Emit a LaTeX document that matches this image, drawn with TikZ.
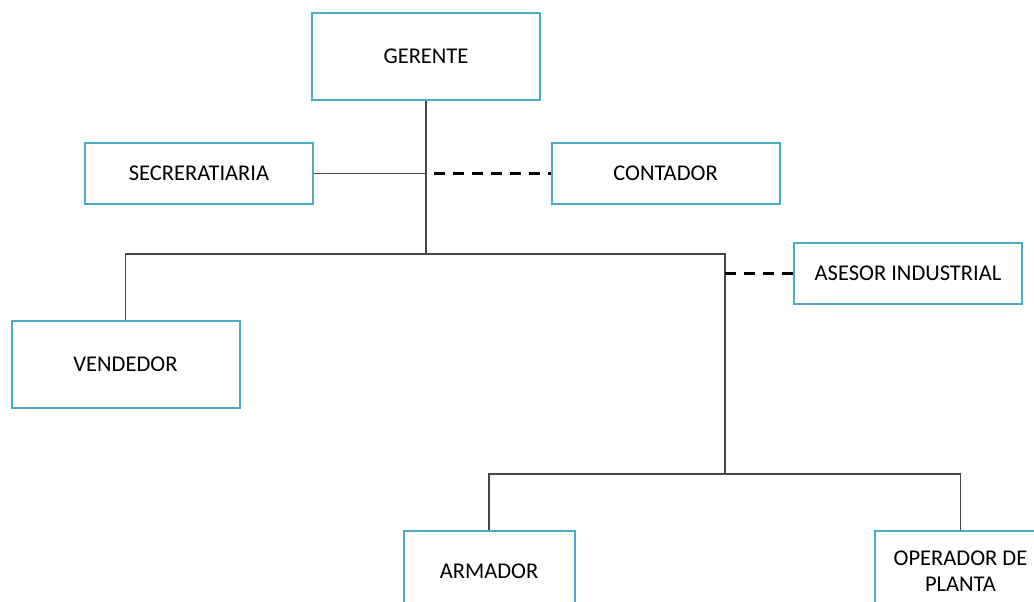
\documentclass[tikz,border=0pt]{standalone}
\usepackage{fontspec}
\setmainfont{Carlito}
\definecolor{cajaazul}{RGB}{75,172,198}
\definecolor{lineagris}{RGB}{70,70,70}
\tikzset{
  puesto/.style={draw=cajaazul, line width=2pt, fill=white, align=center,
    inner sep=0pt, minimum width=228pt, minimum height=87pt,
    font=\fontsize{22.5}{26}\selectfont},
  puestochico/.style={puesto, minimum width=171pt, minimum height=80pt},
  enlace/.style={draw=lineagris, line width=1.2pt},
  asesoria/.style={draw=black, line width=2.6pt, dash pattern=on 11pt off 8pt}
}

\begin{document}
\begin{tikzpicture}[x=1pt,y=-1pt]
    \useasboundingbox (0,0) rectangle (1034,602);

    % puestos
    \node[puesto] (gerente) at (426,56.5) {GERENTE};
    \node[puesto, minimum height=61pt] (secretaria) at (199,173.5) {SECRERATIARIA};
    \node[puesto, minimum height=61pt] (contador) at (665.5,173.5) {CONTADOR};
    \node[puesto, minimum height=61pt] (asesor) at (908,273.5) {ASESOR INDUSTRIAL};
    \node[puesto] (vendedor) at (125.5,364.5) {VENDEDOR};
    \node[puestochico] (armador) at (489,571) {ARMADOR};
    \node[puestochico] (operador) at (960.5,571) {OPERADOR DE\\PLANTA};

    % puntos de union
    \coordinate (tronco) at (426,254);
    \coordinate (rama) at (725,254);
    \coordinate (base) at (725,474);
    \coordinate (staff) at (434,173.5);

    % lineas de mando
    \draw[enlace] (gerente.south) -- (tronco);
    \draw[enlace] (secretaria.east) -- (secretaria.east -| tronco);
    \draw[enlace] (vendedor.north) |- (rama) -- (base);
    \draw[enlace] (armador.north) |- (base);
    \draw[enlace] (operador.north) |- (base);

    % asesoria
    \draw[asesoria] (staff) -- (contador.west);
    \draw[asesoria] (asesor.west -| rama) -- (asesor.west);
\end{tikzpicture}
\end{document}
